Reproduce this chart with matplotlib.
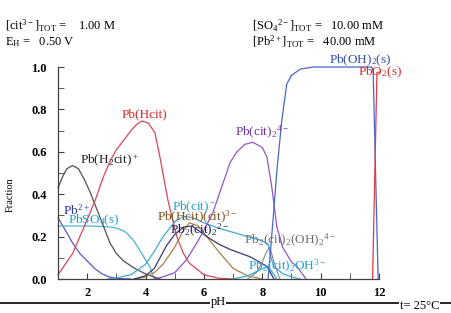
import matplotlib
matplotlib.use("Agg")
import matplotlib.pyplot as plt
from matplotlib.lines import Line2D

plt.rcParams['font.family'] = ['Liberation Serif', 'DejaVu Serif']
plt.rcParams['mathtext.fontset'] = 'custom'
plt.rcParams['mathtext.rm'] = 'Liberation Serif'
plt.rcParams['mathtext.it'] = 'Liberation Serif'
plt.rcParams['mathtext.default'] = 'regular'

# ---- data ----
ph_pb2 = [1, 1.25, 1.5, 1.75, 2, 2.25, 2.5, 2.75, 3, 3.5]
pb2 = [0.29, 0.23, 0.17, 0.12, 0.085, 0.05, 0.025, 0.01, 0.003, 0]

ph_pbso4 = [1, 1.5, 2, 2.5, 2.8, 3.0, 3.2, 3.36, 3.6, 3.8, 4.0, 4.15, 4.3]
pbso4 = [0.25, 0.25, 0.25, 0.248, 0.245, 0.24, 0.23, 0.217, 0.18, 0.137, 0.09, 0.057, 0.0]

ph_h2cit = [1, 1.15, 1.3, 1.5, 1.7, 1.9, 2.1, 2.3, 2.5, 2.78, 3, 3.25, 3.57, 4.05, 4.5]
h2cit = [0.43, 0.48, 0.52, 0.535, 0.52, 0.47, 0.41, 0.34, 0.27, 0.17, 0.12, 0.085, 0.055, 0.02, 0.0]

ph_hcit = [1, 1.5, 1.75, 2, 2.27, 2.55, 2.8, 3.0, 3.2, 3.5, 3.7, 3.88, 4.1, 4.32, 4.5, 4.77, 5.07, 5.3, 5.5, 6, 6.5, 7]
hcit = [0.02, 0.12, 0.2, 0.28, 0.37, 0.48, 0.56, 0.61, 0.645, 0.7, 0.73, 0.745, 0.735, 0.69, 0.57, 0.37, 0.2, 0.12, 0.075, 0.02, 0.004, 0]

ph_cit = [2.7, 3, 3.5, 4, 4.3, 4.6, 5, 5.3, 5.6, 6, 6.5, 7, 7.5, 8, 8.2, 8.3, 8.4, 8.7, 9, 9.3]
cit = [0, 0.005, 0.02, 0.07, 0.13, 0.2, 0.27, 0.295, 0.29, 0.265, 0.24, 0.22, 0.2, 0.18, 0.165, 0.1, 0.06, 0.025, 0.01, 0]

ph_hcitcit = [3.7, 4, 4.3, 4.6, 5, 5.3, 5.5, 5.8, 6.1, 6.5, 7, 7.5, 8]
hcitcit = [0, 0.01, 0.03, 0.07, 0.15, 0.23, 0.265, 0.25, 0.2, 0.13, 0.05, 0.015, 0]

ph_pb2cit2 = [3.6, 4, 4.3, 4.73, 5, 5.3, 5.6, 6.1, 6.5, 6.89, 7.58, 8.16, 8.4]
pb2cit2 = [0, 0.015, 0.05, 0.16, 0.21, 0.245, 0.25, 0.2, 0.165, 0.14, 0.105, 0.06, 0]

ph_cit2 = [4.3, 4.6, 5, 5.4, 5.8, 6.0, 6.3, 6.5, 6.7, 6.9, 7.13, 7.4, 7.68, 8.0, 8.16, 8.33, 8.5, 8.7, 9, 9.18, 9.5]
cit2 = [0, 0.01, 0.03, 0.09, 0.18, 0.23, 0.31, 0.39, 0.47, 0.55, 0.6, 0.635, 0.645, 0.62, 0.575, 0.43, 0.245, 0.15, 0.08, 0.06, 0]

ph_pboh2 = [8.2, 8.37, 8.5, 8.67, 8.84, 9.0, 9.3, 9.75, 10.5, 11.75, 11.8, 11.97]
pboh2 = [0, 0.28, 0.51, 0.75, 0.92, 0.96, 0.99, 1.0, 1.0, 1.0, 0.98, 0]

ph_pbo2 = [11.78, 11.93, 12.0]
pbo2 = [0, 0.975, 0.975]

ph_cit2oh2 = [7.5, 7.8, 8.0, 8.15, 8.26, 8.4, 8.6]
cit2oh2 = [0, 0.03, 0.08, 0.13, 0.15, 0.08, 0.0]

ph_cit2oh = [7, 7.5, 7.8, 8.1, 8.2, 8.35, 8.5]
cit2oh = [0, 0.015, 0.035, 0.055, 0.06, 0.03, 0]

x_ticks = [2, 4, 6, 8, 10, 12]
y_ticks = [0.0, 0.2, 0.4, 0.6, 0.8, 1.0]

# ---- figure ----
W, H = 451, 313
fig = plt.figure(figsize=(W / 100, H / 100), dpi=100)
ax = fig.add_axes([58 / W, (H - 279) / H, (379 - 58) / W, (279 - 67) / H])

lw = 0.9
series = [
    (ph_pb2, pb2, '#5858b8'),
    (ph_pbso4, pbso4, '#48b4d4'),
    (ph_h2cit, h2cit, '#505050'),
    (ph_hcit, hcit, '#d84858'),
    (ph_cit, cit, '#40a8d8'),
    (ph_hcitcit, hcitcit, '#a88050'),
    (ph_pb2cit2, pb2cit2, '#383878'),
    (ph_cit2, cit2, '#9058c0'),
    (ph_cit2oh2, cit2oh2, '#909090'),
    (ph_cit2oh, cit2oh, '#30a8d8'),
    (ph_pboh2, pboh2, '#4868c8'),
    (ph_pbo2, pbo2, '#e83848'),
]
for xs, ys, c in series:
    ax.plot(xs, ys, color=c, lw=lw, clip_on=False)

ax.set_xlim(1, 12)
ax.set_ylim(0, 1.0)
ax.set_xticks(x_ticks)
ax.set_xticks(range(1, 13), minor=True)
ax.set_yticks(y_ticks)
ax.set_yticks([i / 10 for i in range(11)], minor=True)
ax.set_yticklabels([f"{v:.1f}" for v in y_ticks])
ax.tick_params(which='both', direction='in', color='#404040', labelsize=9)
ax.tick_params(which='major', length=4)
ax.tick_params(which='minor', length=4)
ax.tick_params(axis='x', pad=6)
ax.tick_params(axis='y', pad=8)
for lab in ax.get_xticklabels() + ax.get_yticklabels():
    lab.set_fontweight('bold')
for s in ['top', 'right']:
    ax.spines[s].set_visible(False)
for s in ['left', 'bottom']:
    ax.spines[s].set_color('#404040')
    ax.spines[s].set_linewidth(0.9)

fs = 9.5
labels = [
    (3.98, 0.775, 'Pb(Hcit)', '#e02828', 'center'),
    (1.75, 0.555, r'Pb(H$_2$cit)$^+$', '#202020', 'left'),
    (1.17, 0.325, r'Pb$^{2+}$', '#3030a8', 'left'),
    (1.34, 0.275, r'PbSO$_4$(s)', '#20a0d8', 'left'),
    (4.9, 0.34, r'Pb(cit)$^-$', '#20a0d8', 'left'),
    (4.39, 0.29, r'Pb(Hcit)(cit)$^{3-}$', '#805020', 'left'),
    (4.84, 0.23, r'Pb$_2$(cit)$_2$$^{2-}$', '#202060', 'left'),
    (7.06, 0.69, r'Pb(cit)$_2$$^{4-}$', '#7030a8', 'left'),
    (10.3, 1.03, r'Pb(OH)$_2$(s)', '#3050b0', 'left'),
    (11.27, 0.975, r'PbO$_2$(s)', '#e02828', 'left'),
    (7.37, 0.18, r'Pb$_2$(cit)$_2$(OH)$_2$$^{4-}$', '#707070', 'left'),
    (7.5, 0.06, r'Pb$_2$(cit)$_2$OH$^{3-}$', '#20a0d8', 'left'),
]
for x, y, t, c, ha in labels:
    ax.text(x, y, t, color=c, fontsize=fs, ha=ha, va='center', clip_on=False)

# bottom frame line
fig.add_artist(Line2D([0, 1], [1 - 302.5 / H, 1 - 302.5 / H], color='black', lw=1.2))

fig.text(218 / W, 1 - 302 / H, 'pH', fontsize=9, ha='center', va='center',
         bbox=dict(facecolor='white', edgecolor='none', pad=0.5))
fig.text(400 / W, 1 - 306 / H, u't= 25\u00b0C', fontsize=9, ha='left', va='center',
         bbox=dict(facecolor='white', edgecolor='none', pad=0.5))
fig.text(10 / W, 1 - 195 / H, 'Fraction', fontsize=7.5, rotation=90, ha='center', va='center')

hdr = 9
fig.text(5 / W, 1 - 26 / H, r'[cit$^{3-}$]$_{TOT}$ =    1.00 M', fontsize=hdr, ha='left', va='center')
fig.text(5 / W, 1 - 42 / H, r'E$_H$ =   0.50 V', fontsize=hdr, ha='left', va='center')
fig.text(252 / W, 1 - 26 / H, r'[SO$_4$$^{2-}$]$_{TOT}$ =   10.00 mM', fontsize=hdr, ha='left', va='center')
fig.text(252 / W, 1 - 42 / H, r'[Pb$^{2+}$]$_{TOT}$ =   40.00 mM', fontsize=hdr, ha='left', va='center')

fig.savefig('out.png', dpi=100, facecolor='white')
